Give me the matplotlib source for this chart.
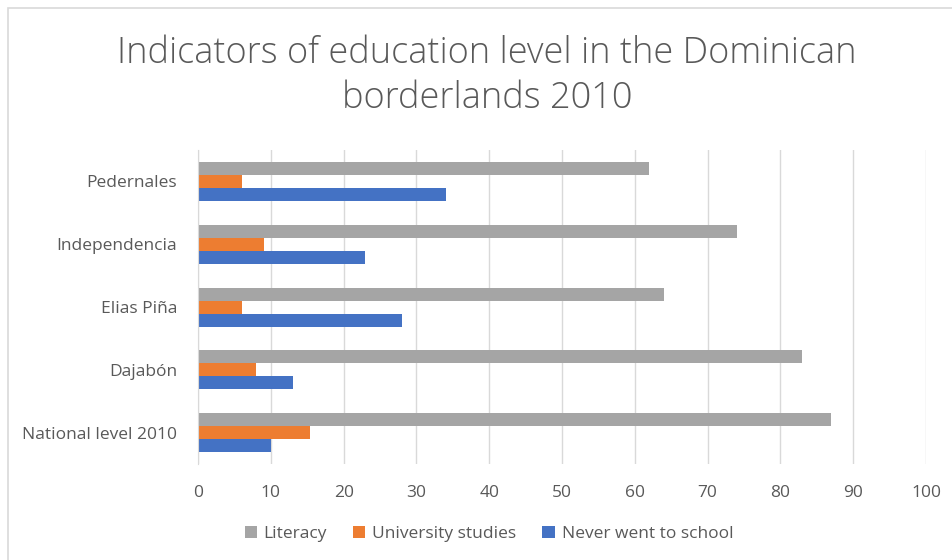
import matplotlib
matplotlib.use('Agg')
import matplotlib.pyplot as plt
import numpy as np

regions = ['National level 2010', 'Dajabón', 'Elias Piña', 'Independencia', 'Pedernales']
never_school = [10, 13, 28, 23, 34]
university = [15.4, 8, 6, 9, 6]
literacy = [87, 83, 64, 74, 62]

txt = '#595959'
plt.rcParams['font.family'] = ['Open Sans', 'DejaVu Sans']

fig = plt.figure(figsize=(9.53, 5.6), dpi=100)
ax = fig.add_axes([0.2078, 0.1714, 0.7639, 0.5607])

y = np.arange(len(regions))
h = 0.207
b1 = ax.barh(y - h, never_school, h, color='#4472C4', label='Never went to school')
b2 = ax.barh(y, university, h, color='#ED7D31', label='University studies')
b3 = ax.barh(y + h, literacy, h, color='#A5A5A5', label='Literacy')

ax.set_xlim(0, 100)
ax.set_ylim(-0.5, len(regions) - 0.5)
ax.set_xticks(range(0, 101, 10))
ax.set_yticks(y)
ax.set_yticklabels(regions)
ax.tick_params(axis='both', length=0, labelsize=12.5, colors=txt)
ax.tick_params(axis='x', pad=15)
ax.tick_params(axis='y', pad=15)
ax.grid(axis='x', color='#D9D9D9', lw=1)
ax.set_axisbelow(True)
for s in ['top', 'right', 'bottom']:
    ax.spines[s].set_visible(False)
ax.spines['left'].set_color('#D9D9D9')

fig.text(0.511, 0.864, 'Indicators of education level in the Dominican\nborderlands 2010',
         ha='center', va='center', fontsize=26, color=txt, linespacing=1.3,
         fontweight='light')

leg = fig.legend([b3, b2, b1], ['Literacy', 'University studies', 'Never went to school'],
                 loc='center', bbox_to_anchor=(0.513, 0.046), ncol=3, frameon=False,
                 fontsize=12.5, handlelength=0.7, handleheight=0.7, handletextpad=0.4,
                 columnspacing=1.5)
for t in leg.get_texts():
    t.set_color(txt)

# light frame around the chart area
fig.add_artist(plt.Rectangle((8 / 953, -0.1), 1.1, 1 - 8 / 560 + 0.1, transform=fig.transFigure,
                             fill=False, edgecolor='#D9D9D9', lw=1.2))

fig.savefig('out.png', dpi=100)
